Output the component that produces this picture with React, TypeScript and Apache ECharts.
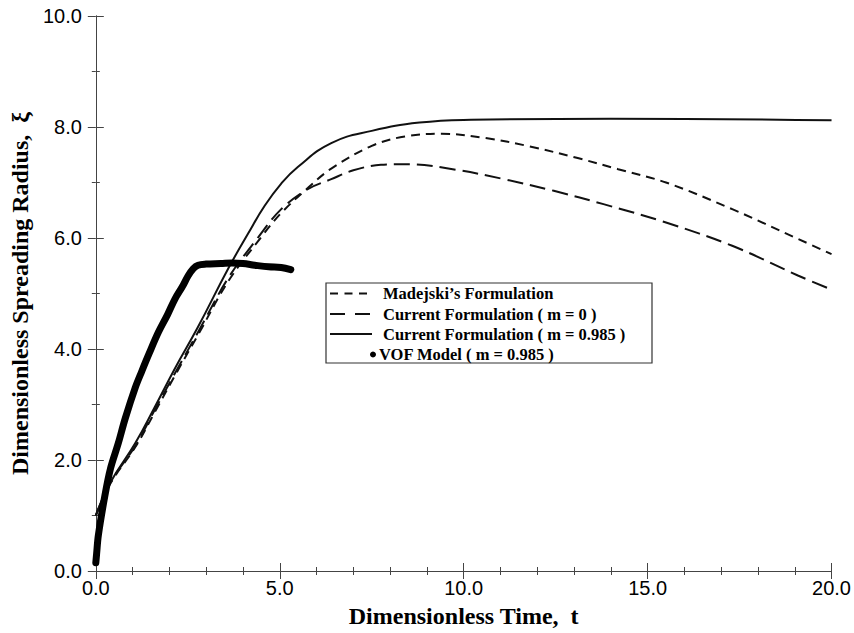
import React, { useEffect, useRef } from "react";
import * as echarts from "echarts";

const madejski: [number, number][] = [
  [0, 1.0], [0.4, 1.58], [1.1, 2.26], [1.6, 2.86], [2.2, 3.58], [2.8, 4.28], [3.6, 5.22],
  [4.5, 6.02], [5.04, 6.45], [5.76, 6.9], [6.4, 7.25], [7.5, 7.66], [8.4, 7.83], [9.4, 7.88],
  [10.6, 7.8], [11.8, 7.65], [13.1, 7.44], [14.2, 7.24], [15.5, 7.0], [17.3, 6.52],
  [19.1, 5.98], [20, 5.71],
];
const currentM0: [number, number][] = [
  [0, 1.0], [0.4, 1.6], [1.1, 2.28], [1.6, 2.9], [2.2, 3.62], [2.8, 4.33], [3.6, 5.28],
  [4.4, 6.0], [5.04, 6.52], [5.76, 6.88], [6.4, 7.06], [7.0, 7.22], [7.75, 7.32], [8.5, 7.33],
  [9.7, 7.24], [11.1, 7.06], [12.45, 6.85], [13.8, 6.61], [15.5, 6.28], [17.3, 5.86],
  [19.1, 5.32], [20, 5.07],
];
const currentM0985: [number, number][] = [
  [0, 1.0], [0.4, 1.6], [1.07, 2.3], [1.6, 2.95], [2.15, 3.65], [2.78, 4.4], [3.6, 5.45],
  [4.14, 6.08], [4.59, 6.58], [5.04, 6.98], [5.49, 7.28], [6.4, 7.71], [7.5, 7.93], [8.8, 8.08],
  [10.2, 8.13], [14, 8.15], [20, 8.12],
];
const vofModel: [number, number][] = [
  [0, 0.15], [0.02, 0.3], [0.07, 0.65], [0.25, 1.37], [0.4, 1.85], [0.61, 2.3], [0.8, 2.75],
  [1.07, 3.3], [1.25, 3.6], [1.45, 3.92], [1.7, 4.3], [1.95, 4.62], [2.15, 4.9], [2.35, 5.12],
  [2.51, 5.32], [2.65, 5.45], [2.78, 5.51], [3.0, 5.53], [3.4, 5.54], [3.7, 5.55], [4.0, 5.54],
  [4.32, 5.51], [4.7, 5.48], [5.04, 5.47], [5.3, 5.43],
];

const legendNames = [
  "Madejski\u2019s Formulation",
  "Current Formulation ( m = 0 )",
  "Current Formulation ( m = 0.985 )",
  "VOF Model ( m = 0.985 )",
];

const AXIS_COLOR = "#444";
const LABEL_FONT = "'Liberation Sans', Arial, sans-serif";
const TITLE_FONT = "'Liberation Serif', 'Times New Roman', serif";
const SHORT_DASH = [9, 6];
const LONG_DASH = [16, 7];

export default function App() {
  const ref = useRef<HTMLDivElement>(null);
  useEffect(() => {
    document.body.style.margin = "0";
    if (!ref.current) return;
    const chart = echarts.init(ref.current, undefined, { renderer: "svg" });

    const baseX = {
      type: "value",
      min: 0,
      max: 20,
      interval: 5,
      axisLine: { show: true, lineStyle: { color: AXIS_COLOR, width: 1 } },
      axisTick: { show: true, inside: true, length: 8, lineStyle: { color: AXIS_COLOR } },
      minorTick: { show: true, splitNumber: 5, length: 4, lineStyle: { color: AXIS_COLOR } },
      splitLine: { show: false },
    };
    const baseY = {
      type: "value",
      min: 0,
      max: 10,
      interval: 2,
      axisLine: { show: true, lineStyle: { color: AXIS_COLOR, width: 1 } },
      axisTick: { show: true, inside: true, length: 8, lineStyle: { color: AXIS_COLOR } },
      minorTick: { show: true, splitNumber: 2, length: 4, lineStyle: { color: AXIS_COLOR } },
      splitLine: { show: false },
    };

    const lx = 326, ly = 283, lw = 326, lh = 80;
    const rows = [293.5, 314, 334, 354.5];
    const ix1 = 330, ix2 = 372;

    chart.setOption({
      animation: false,
      backgroundColor: "#fff",
      grid: { left: 94, right: 22, top: 16, bottom: 60, containLabel: false },
      xAxis: [
        {
          ...baseX,
          position: "bottom",
          name: "Dimensionless Time,  t",
          nameLocation: "middle",
          nameGap: 33,
          nameTextStyle: { fontFamily: TITLE_FONT, fontWeight: "bold", fontSize: 24, color: "#000" },
          axisLabel: {
            fontFamily: LABEL_FONT, fontSize: 20, color: "#000", margin: 7,
            formatter: (v: number) => v.toFixed(1),
          },
        },
        { ...baseX, position: "top", axisLabel: { show: false } },
      ],
      yAxis: [
        {
          ...baseY,
          position: "left",
          name: "Dimensionless Spreading Radius,  \u03BE",
          nameLocation: "middle",
          nameGap: 60,
          nameTextStyle: { fontFamily: TITLE_FONT, fontWeight: "bold", fontSize: 24, color: "#000" },
          axisLabel: {
            fontFamily: LABEL_FONT, fontSize: 20, color: "#000", margin: 14,
            formatter: (v: number) => v.toFixed(1),
          },
        },
        { ...baseY, position: "right", axisLabel: { show: false } },
      ],
      series: [
        {
          name: legendNames[0], type: "line", data: madejski, smooth: 0.35, showSymbol: false,
          lineStyle: { color: "#111", width: 2, type: SHORT_DASH }, z: 3,
        },
        {
          name: legendNames[1], type: "line", data: currentM0, smooth: 0.35, showSymbol: false,
          lineStyle: { color: "#111", width: 2, type: LONG_DASH }, z: 3,
        },
        {
          name: legendNames[2], type: "line", data: currentM0985, smooth: 0.45, showSymbol: false,
          lineStyle: { color: "#111", width: 2, type: "solid" }, z: 3,
        },
        {
          name: legendNames[3], type: "line", data: vofModel, smooth: 0.35, showSymbol: false,
          lineStyle: { color: "#000", width: 7, cap: "round", join: "round" }, z: 4,
        },
      ],
      graphic: [
        {
          type: "rect", shape: { x: lx, y: ly, width: lw, height: lh },
          style: { fill: "#fff", stroke: "#333", lineWidth: 1.2 }, z: 10,
        },
        {
          type: "line", shape: { x1: ix1, y1: rows[0], x2: ix2, y2: rows[0] },
          style: { stroke: "#111", lineWidth: 2, lineDash: [8, 6.5] }, z: 11,
        },
        {
          type: "line", shape: { x1: ix1, y1: rows[1], x2: ix2, y2: rows[1] },
          style: { stroke: "#111", lineWidth: 2, lineDash: [15, 10] }, z: 11,
        },
        {
          type: "line", shape: { x1: ix1, y1: rows[2], x2: ix2, y2: rows[2] },
          style: { stroke: "#111", lineWidth: 2 }, z: 11,
        },
        {
          type: "circle", shape: { cx: 373, cy: rows[3], r: 3 },
          style: { fill: "#000" }, z: 11,
        },
        ...legendNames.map((n, i) => ({
          type: "text",
          x: i === 3 ? 379 : 383,
          y: rows[i],
          style: {
            text: n, fontFamily: TITLE_FONT, fontWeight: "bold", fontSize: 16.5,
            fill: "#000", verticalAlign: "middle", align: "left",
          },
          z: 11,
        })),
      ],
    });
    return () => chart.dispose();
  }, []);
  return <div ref={ref} style={{ width: 854, height: 633 }} />;
}
